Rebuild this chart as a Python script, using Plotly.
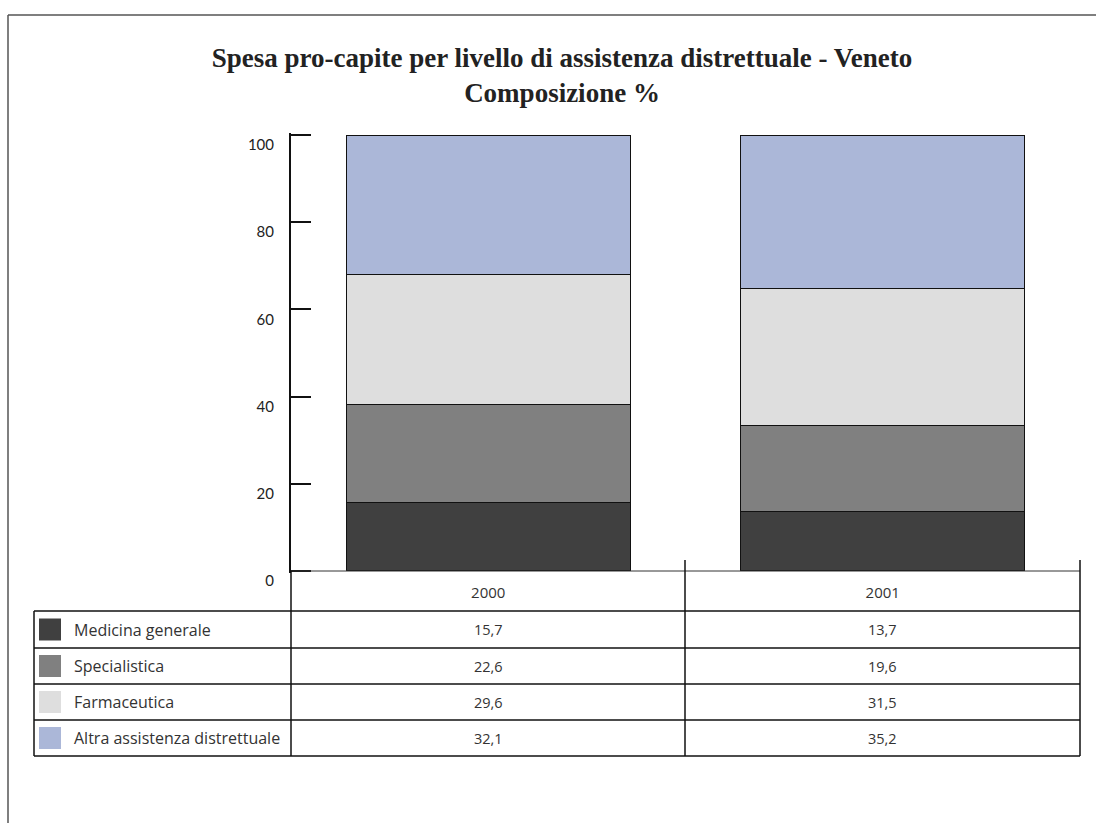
import plotly.graph_objects as go

# ---- data ----
years = ["2000", "2001"]
series_names = ["Medicina generale", "Specialistica", "Farmaceutica", "Altra assistenza distrettuale"]
medicina_generale = [15.7, 13.7]
specialistica = [22.6, 19.6]
farmaceutica = [29.6, 31.5]
altra_assistenza = [32.1, 35.2]
y_tick_values = [0, 20, 40, 60, 80, 100]
y_tick_labels = ["0", "20", "40", "60", "80", "100"]

series_values = [medicina_generale, specialistica, farmaceutica, altra_assistenza]
colors = ["#404040", "#808080", "#dedede", "#abb7d8"]

W, H = 1096, 823
L, R, T, B = 291, 1080, 133, 573  # plot area in px (range padded slightly so end ticks show)
Y_RANGE = [-0.46, 100.46]


def px(x):
    return (x - L) / (R - L)


def py(y):
    return (B - y) / (B - T)


fig = go.Figure()
for name, vals, col in zip(series_names, series_values, colors):
    fig.add_trace(go.Bar(
        x=years, y=vals, name=name,
        marker=dict(color=col, line=dict(color="#111111", width=1)),
        showlegend=False, hoverinfo="name+y",
    ))

shapes = []
line_black = dict(color="#111111", width=1.5)
# page border
shapes.append(dict(type="line", xref="paper", yref="paper", x0=px(8), x1=px(1100), y0=py(15), y1=py(15),
                   line=dict(color="#555555", width=1.5)))
shapes.append(dict(type="line", xref="paper", yref="paper", x0=px(8), x1=px(8), y0=py(15), y1=py(830),
                   line=dict(color="#555555", width=1.5)))
# table
row_edges = [611, 648, 684, 720, 756]
for ry in row_edges:
    shapes.append(dict(type="line", xref="paper", yref="paper", x0=px(34), x1=px(1080), y0=py(ry), y1=py(ry),
                       line=line_black))
shapes.append(dict(type="line", xref="paper", yref="paper", x0=px(291), x1=px(1080), y0=py(571), y1=py(571),
                   line=dict(color="#333333", width=1)))
shapes.append(dict(type="line", xref="paper", yref="paper", x0=px(34), x1=px(34), y0=py(611), y1=py(756),
                   line=line_black))
shapes.append(dict(type="line", xref="paper", yref="paper", x0=px(291), x1=px(291), y0=py(571), y1=py(756),
                   line=line_black))
for vx in [685, 1080]:
    shapes.append(dict(type="line", xref="paper", yref="paper", x0=px(vx), x1=px(vx), y0=py(560), y1=py(756),
                       line=line_black))

annotations = []
col_centers = [488, 882]
for i, (name, vals, col) in enumerate(zip(series_names, series_values, colors)):
    top, bot = row_edges[i], row_edges[i + 1]
    cy = (top + bot) / 2
    shapes.append(dict(type="rect", xref="paper", yref="paper", x0=px(39), x1=px(61), y0=py(cy - 11), y1=py(cy + 11),
                       fillcolor=col, line=dict(width=0)))
    annotations.append(dict(xref="paper", yref="paper", x=px(72), y=py(cy), text=name, showarrow=False,
                            xanchor="left", yanchor="middle",
                            font=dict(family="Open Sans", size=16, color="#333333")))
    for j, v in enumerate(vals):
        annotations.append(dict(xref="paper", yref="paper", x=px(col_centers[j]), y=py(cy),
                                text=f"{v:.1f}".replace(".", ","), showarrow=False,
                                xanchor="center", yanchor="middle",
                                font=dict(family="Open Sans", size=14.5, color="#333333")))

fig.update_layout(
    width=W, height=H,
    margin=dict(l=L, r=W - R, t=T, b=H - B, pad=0),
    paper_bgcolor="white", plot_bgcolor="white",
    barmode="stack", bargap=0.28,
    title=dict(text="<b>Spesa pro-capite per livello di assistenza distrettuale - Veneto<br>Composizione %</b>",
               x=px(562), xref="paper", xanchor="center",
               y=1 - 67 / H, yref="container", yanchor="top",
               font=dict(family="Liberation Serif", size=27, color="#222222")),
    shapes=shapes, annotations=annotations,
    xaxis=dict(showline=False, showgrid=False, zeroline=False, ticks="",
               tickfont=dict(family="Open Sans", size=15, color="#333333"),
               ticklabelstandoff=9),
    yaxis=dict(range=Y_RANGE, tickvals=y_tick_values, ticktext=y_tick_labels,
               showline=True, linecolor="#111111", linewidth=2,
               ticks="inside", ticklen=20, tickwidth=2, tickcolor="#111111",
               showgrid=False, zeroline=False,
               tickfont=dict(family="Lato", size=15, color="#222222"),
               ticklabelshift=10, ticklabelstandoff=12),
)

fig.write_html("out.html", config={"displayModeBar": False},
               post_script="document.body.style.margin='0';document.body.style.overflow='hidden';")
